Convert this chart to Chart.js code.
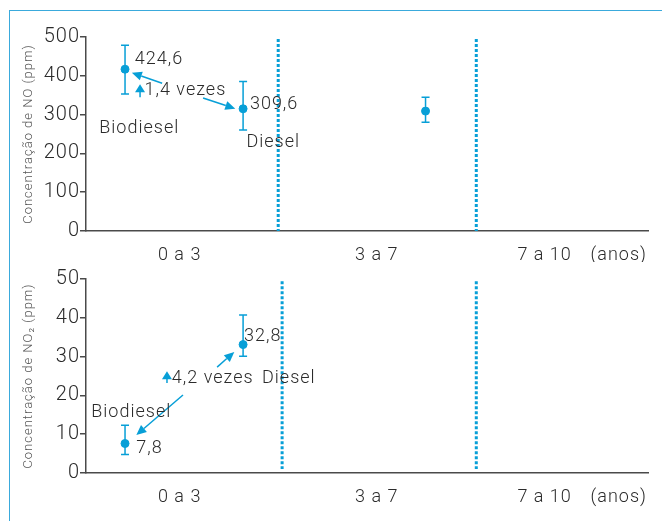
<!DOCTYPE html>
<html>
<head>
<meta charset="utf-8">
<script src="https://cdn.jsdelivr.net/npm/chart.js@4/dist/chart.umd.min.js"></script>
<style>
  html, body { margin: 0; padding: 0; background: #fff; overflow: hidden; }
  #wrap { position: relative; width: 662px; height: 521px; }
  #frame { position: absolute; left: 9px; top: 10px; width: 700px; height: 600px;
           border-top: 1.5px solid #3aaadc; border-left: 1.5px solid #3aaadc; }
  #topBox { position: absolute; left: 0; top: 0; width: 662px; height: 262px; }
  #botBox { position: absolute; left: 0; top: 262px; width: 662px; height: 259px; }
</style>
</head>
<body>
<div id="wrap">
  <div id="frame"></div>
  <div id="topBox"><canvas id="noChart"></canvas></div>
  <div id="botBox"><canvas id="no2Chart"></canvas></div>
</div>
<script>
// x positions are in "age bands": each band is one unit wide (0 a 3, 3 a 7, 7 a 10)
const xTickPos = [0.48, 1.49, 2.35, 2.73];
const xTickLabels = ['0 a 3', '3 a 7', '7 a 10', '(anos)'];

// NO concentration (ppm)
const noX = [0.2, 0.805, 1.74];
const noValues = [417, 315, 309];
const noLow = [353, 260, 280];
const noHigh = [479, 385, 345];
const noTicks = [0, 100, 200, 300, 400, 500];

// NO2 concentration (ppm)
const no2X = [0.2, 0.805];
const no2Values = [7.6, 33.1];
const no2Low = [4.8, 30.1];
const no2High = [12.3, 40.7];
const no2Ticks = [0, 10, 20, 30, 40, 50];

const BLUE = '#079fd7';
const TEXT = '#2b2b2b';
const FONT = "Roboto, 'Open Sans', Lato, 'DejaVu Sans', sans-serif";

Chart.defaults.font.family = FONT;
Chart.defaults.font.weight = '300';
Chart.defaults.color = TEXT;

function drawArrow(ctx, x1, y1, x2, y2) {
    const ang = Math.atan2(y2 - y1, x2 - x1);
    const len = 10, half = 4.5;
    const bx = x2 - len * Math.cos(ang), by = y2 - len * Math.sin(ang);
    ctx.beginPath();
    ctx.moveTo(x1, y1);
    ctx.lineTo(bx, by);
    ctx.stroke();
    ctx.beginPath();
    ctx.moveTo(x2, y2);
    ctx.lineTo(bx + half * Math.sin(ang), by - half * Math.cos(ang));
    ctx.lineTo(bx - half * Math.sin(ang), by + half * Math.cos(ang));
    ctx.closePath();
    ctx.fill();
}

function drawUpArrow(ctx, x, yTop, yBottom) {
    ctx.beginPath();
    ctx.moveTo(x, yTop);
    ctx.lineTo(x + 5, yTop + 8);
    ctx.lineTo(x - 5, yTop + 8);
    ctx.closePath();
    ctx.fill();
    ctx.beginPath();
    ctx.moveTo(x, yTop + 7);
    ctx.lineTo(x, yBottom);
    ctx.stroke();
}

// dividers, error bars and annotations, all placed through the chart scales
const overlayPlugin = {
    id: 'overlay',
    beforeDraw(chart) {
        // the original lettering is set quite loose
        chart.ctx.letterSpacing = '1px';
    },
    beforeDatasetsDraw(chart, args, opts) {
        const { ctx } = chart;
        const x = chart.scales.x, y = chart.scales.y;
        ctx.save();
        ctx.strokeStyle = BLUE;
        ctx.lineWidth = 3;
        ctx.setLineDash([3, 2]);
        opts.dividers.forEach(v => {
            const px = x.getPixelForValue(v);
            ctx.beginPath();
            ctx.moveTo(px, y.getPixelForValue(opts.dividerTop));
            ctx.lineTo(px, y.getPixelForValue(opts.dividerBottom));
            ctx.stroke();
        });
        ctx.setLineDash([]);
        ctx.lineWidth = 1.5;
        opts.xs.forEach((xv, i) => {
            const px = x.getPixelForValue(xv);
            const lo = y.getPixelForValue(opts.low[i]);
            const hi = y.getPixelForValue(opts.high[i]);
            ctx.beginPath();
            ctx.moveTo(px, lo); ctx.lineTo(px, hi);
            ctx.moveTo(px - 4, lo); ctx.lineTo(px + 4, lo);
            ctx.moveTo(px - 4, hi); ctx.lineTo(px + 4, hi);
            ctx.stroke();
        });
        ctx.restore();
    },
    afterDatasetsDraw(chart, args, opts) {
        const { ctx } = chart;
        const x = chart.scales.x, y = chart.scales.y;
        ctx.save();
        ctx.strokeStyle = BLUE;
        ctx.fillStyle = BLUE;
        ctx.lineWidth = 1.5;
        opts.arrows.forEach(a => {
            drawArrow(ctx, x.getPixelForValue(a[0]), y.getPixelForValue(a[1]),
                      x.getPixelForValue(a[2]), y.getPixelForValue(a[3]));
        });
        opts.upArrows.forEach(a => {
            drawUpArrow(ctx, x.getPixelForValue(a[0]), y.getPixelForValue(a[2]), y.getPixelForValue(a[1]));
        });
        ctx.fillStyle = TEXT;
        ctx.font = '300 18px ' + FONT;
        ctx.letterSpacing = '1px';
        ctx.textAlign = 'left';
        ctx.textBaseline = 'middle';
        opts.labels.forEach(l => {
            ctx.fillText(l[0], x.getPixelForValue(l[1]), y.getPixelForValue(l[2]));
        });
        ctx.restore();
    }
};

function buildChart(canvasId, cfg) {
    return new Chart(document.getElementById(canvasId), {
        type: 'scatter',
        data: {
            datasets: [{
                data: cfg.xs.map((v, i) => ({ x: v, y: cfg.values[i] })),
                backgroundColor: BLUE,
                borderColor: BLUE,
                pointRadius: 4,
                pointHoverRadius: 4
            }]
        },
        plugins: [overlayPlugin],
        options: {
            responsive: true,
            maintainAspectRatio: false,
            animation: false,
            layout: { padding: { top: cfg.padTop, right: 14, left: 0, bottom: 0 } },
            plugins: {
                legend: { display: false },
                tooltip: { enabled: false },
                overlay: cfg.overlay
            },
            scales: {
                x: {
                    type: 'linear',
                    min: 0,
                    max: 2.88,
                    afterBuildTicks: axis => { axis.ticks = xTickPos.map(v => ({ value: v })); },
                    afterFit: axis => { axis.height = cfg.xHeight; },
                    grid: { display: false, drawTicks: false },
                    border: { display: true, color: '#4a4a4a', width: 1.5 },
                    ticks: {
                        autoSkip: false,
                        maxRotation: 0,
                        padding: 14,
                        font: { size: 18, weight: '300' },
                        color: TEXT,
                        callback: (v, i) => xTickLabels[i]
                    }
                },
                y: {
                    min: 0,
                    max: cfg.ticks[cfg.ticks.length - 1],
                    afterBuildTicks: axis => { axis.ticks = cfg.ticks.map(v => ({ value: v })); },
                    afterFit: axis => { axis.width = 86; },
                    grid: { display: true, drawOnChartArea: false, drawTicks: true, tickLength: 6, color: '#4a4a4a', lineWidth: 1.5 },
                    border: { display: true, color: '#4a4a4a', width: 1.5 },
                    ticks: { padding: 0, font: { size: 20, weight: '300' }, color: TEXT },
                    title: {
                        display: true,
                        text: cfg.title,
                        color: '#555',
                        font: { size: 13, weight: '300' },
                        padding: { top: 21, bottom: 0 }
                    }
                }
            }
        }
    });
}

buildChart('noChart', {
    xs: noX, values: noValues, ticks: noTicks,
    padTop: 37, xHeight: 31,
    title: 'Concentração de NO (ppm)',
    overlay: {
        dividers: [0.985, 2.0], dividerTop: 495, dividerBottom: 0,
        xs: noX, low: noLow, high: noHigh,
        arrows: [[0.39, 381, 0.235, 408], [0.6, 343, 0.765, 315]],
        upArrows: [[0.277, 345, 378]],
        labels: [
            ['424,6', 0.25, 441],
            ['309,6', 0.84, 325],
            ['1,4 vezes', 0.30, 361],
            ['Biodiesel', 0.068, 265],
            ['Diesel', 0.822, 229]
        ]
    }
});

buildChart('no2Chart', {
    xs: no2X, values: no2Values, ticks: no2Ticks,
    padTop: 17, xHeight: 48,
    title: 'Concentração de NO₂ (ppm)',
    overlay: {
        dividers: [1.005, 2.0], dividerTop: 49.4, dividerBottom: 1,
        xs: no2X, low: no2Low, high: no2High,
        arrows: [[0.672, 27.3, 0.76, 31.2], [0.497, 20.1, 0.258, 9.8]],
        upArrows: [[0.415, 23.2, 26.2]],
        labels: [
            ['32,8', 0.81, 35.3],
            ['4,2 vezes', 0.44, 24.4],
            ['Diesel', 0.902, 24.4],
            ['Biodiesel', 0.027, 15.7],
            ['7,8', 0.258, 6.4]
        ]
    }
});
</script>
</body>
</html>
